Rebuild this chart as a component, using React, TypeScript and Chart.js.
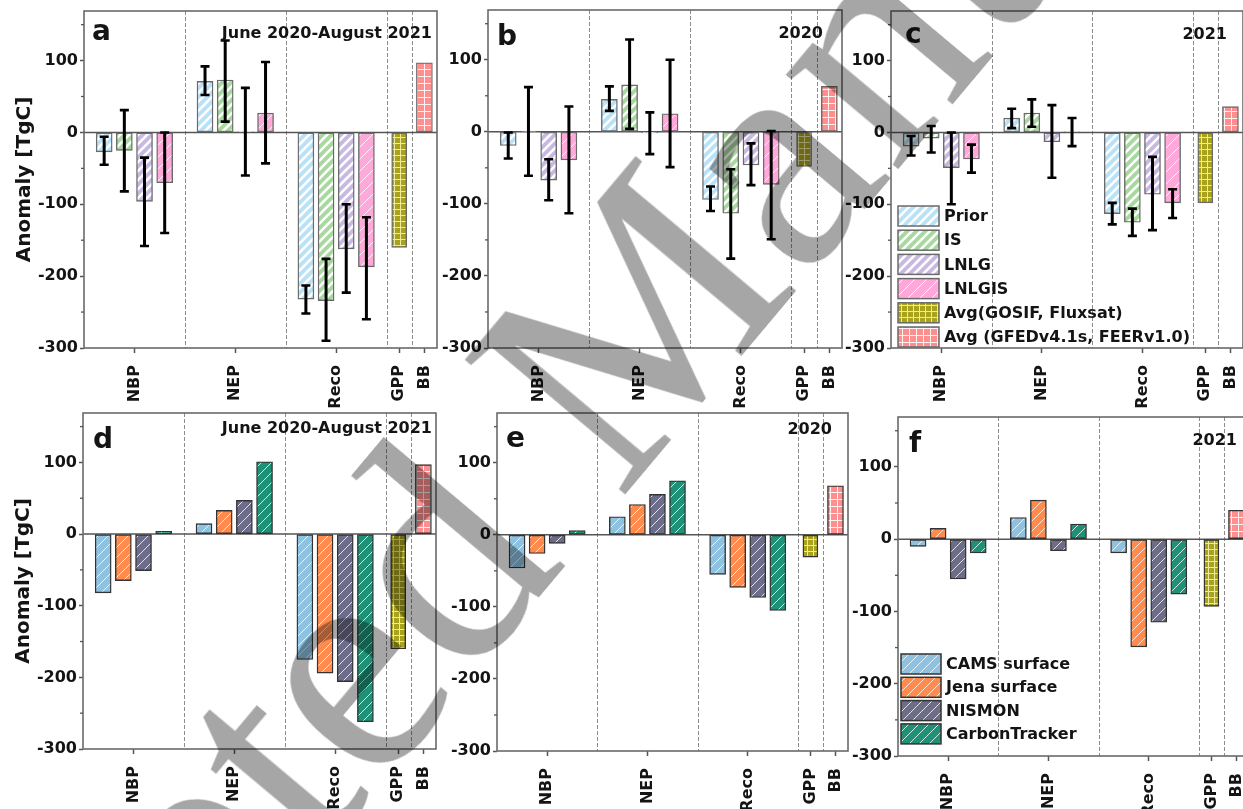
import React, { useEffect, useRef } from "react";
import { Chart, registerables } from "chart.js";

Chart.register(...registerables);

// ---------- categories & axes ----------
const CATEGORIES = ["NBP", "NEP", "Reco", "GPP", "BB"];
const CATEGORY_SPAN = [4, 4, 4, 1, 1];
const Y_TICKS = [-300, -200, -100, 0, 100];
const Y_MINOR = [-250, -150, -50, 50, 150];
const Y_MIN = -300;
const Y_MAX = 169;
const Y_TITLE = "Anomaly [TgC]";
const WATERMARK = "Accepted Manuscript";

// ---------- series names ----------
const TOP_SERIES = ["Prior", "IS", "LNLG", "LNLGIS"];
const BOTTOM_SERIES = ["CAMS surface", "Jena surface", "NISMON", "CarbonTracker"];
const GPP_LABEL = "Avg(GOSIF, Fluxsat)";
const BB_LABEL = "Avg (GFEDv4.1s, FEERv1.0)";

// ---------- panel a : June 2020-August 2021 (NBP, NEP, Reco) ----------
const A_PRIOR = [-27, 71, -232];
const A_PRIOR_LO = [-45, 52, -252];
const A_PRIOR_HI = [-6, 92, -213];
const A_IS = [-25, 73, -234];
const A_IS_LO = [-82, 15, -290];
const A_IS_HI = [31, 128, -176];
const A_LNLG = [-96, 1, -162];
const A_LNLG_LO = [-158, -60, -223];
const A_LNLG_HI = [-35, 62, -100];
const A_LNLGIS = [-70, 27, -187];
const A_LNLGIS_LO = [-140, -43, -260];
const A_LNLGIS_HI = [0, 98, -118];
const A_GPP = -160;
const A_BB = 97;

// ---------- panel b : 2020 ----------
const B_PRIOR = [-19, 45, -94];
const B_PRIOR_LO = [-37, 29, -110];
const B_PRIOR_HI = [-1, 63, -76];
const B_IS = [1, 65, -113];
const B_IS_LO = [-61, 4, -176];
const B_IS_HI = [62, 128, -52];
const B_LNLG = [-67, -1.5, -46];
const B_LNLG_LO = [-95, -31, -74];
const B_LNLG_HI = [-38, 27, -16];
const B_LNLGIS = [-39, 25, -73];
const B_LNLGIS_LO = [-113, -49, -149];
const B_LNLGIS_HI = [35, 100, 1];
const B_GPP = -48;
const B_BB = 63;

// ---------- panel c : 2021 ----------
const C_PRIOR = [-19, 20, -113];
const C_PRIOR_LO = [-32, 6, -128];
const C_PRIOR_HI = [-5, 33, -98];
const C_IS = [-8, 27, -125];
const C_IS_LO = [-28, 8, -144];
const C_IS_HI = [9, 46, -106];
const C_LNLG = [-49, -13, -86];
const C_LNLG_LO = [-100, -63, -136];
const C_LNLG_HI = [0, 38, -34];
const C_LNLGIS = [-37, 1, -98];
const C_LNLGIS_LO = [-56, -19, -119];
const C_LNLGIS_HI = [-17, 20, -79];
const C_GPP = -98;
const C_BB = 36;

// ---------- panel d : June 2020-August 2021 ----------
const D_CAMS = [-82, 14.5, -175];
const D_JENA = [-65, 33, -194];
const D_NISMON = [-51, 47, -206];
const D_CT = [4, 101, -262];
const D_GPP = -160;
const D_BB = 97;

// ---------- panel e : 2020 ----------
const E_CAMS = [-46, 25, -55];
const E_JENA = [-26, 42, -73];
const E_NISMON = [-12, 56, -87];
const E_CT = [6, 75, -105];
const E_GPP = -31;
const E_BB = 68;

// ---------- panel f : 2021 ----------
const F_CAMS = [-10, 30, -19];
const F_JENA = [15, 54, -149];
const F_NISMON = [-55, -16, -115];
const F_CT = [-19, 21, -76];
const F_GPP = -93;
const F_BB = 40;

// ---------- styles ----------
const FONT = "'DejaVu Sans', 'Liberation Sans', sans-serif";
const TEXT = "#141414";
const TOP_STYLE = [
  { base: "#b9e2f8", stripe: "#ffffff", lw: 2.6, period: 9 },
  { base: "#a7d99e", stripe: "#ffffff", lw: 2.6, period: 9 },
  { base: "#c7b9e1", stripe: "#ffffff", lw: 2.6, period: 9 },
  { base: "#ffa9da", stripe: "rgba(255,255,255,0.85)", lw: 1, period: 12 },
];
const BOTTOM_STYLE = [
  { base: "#8fc2e0", stripe: "rgba(255,255,255,0.8)", lw: 1, period: 10 },
  { base: "#ff8b4e", stripe: "rgba(255,255,255,0.8)", lw: 1, period: 10 },
  { base: "#6d6d89", stripe: "rgba(255,255,255,0.8)", lw: 1, period: 10 },
  { base: "#1f9177", stripe: "rgba(255,255,255,0.8)", lw: 1, period: 10 },
];
const GPP_STYLE = { base: "#a9a31c", line: "#eceaa0", cell: 6 };
const BB_STYLE = { base: "#ff8f8f", line: "#fff2f2", cell: 7 };

// ---------- layout (chart-area boxes in page pixels) ----------
const GEOMETRY = {
  a: { L: 84, T: 11, W: 353, H: 337 },
  b: { L: 488, T: 10, W: 354, H: 338 },
  c: { L: 891, T: 11, W: 352, H: 337 },
  d: { L: 83, T: 413, W: 353, H: 336 },
  e: { L: 497, T: 413, W: 351, H: 338 },
  f: { L: 898, T: 417, W: 351, H: 339 },
};
const Y_AXIS_W = 80;
const TOP_PAD = 12;
const RIGHT_PAD = 30;

const groupStart = (g: number) => CATEGORY_SPAN.slice(0, g).reduce((s, v) => s + v, 0);
const X_MAX = groupStart(CATEGORY_SPAN.length);
const TICK_POS = CATEGORIES.map((_, g) => groupStart(g) + CATEGORY_SPAN[g] / 2);
const SEPARATORS = CATEGORIES.slice(1).map((_, g) => groupStart(g + 1));

function diagPattern(base: string, stripe: string, lw: number, p: number) {
  const c = document.createElement("canvas");
  c.width = p;
  c.height = p;
  const g = c.getContext("2d")!;
  g.fillStyle = base;
  g.fillRect(0, 0, p, p);
  g.strokeStyle = stripe;
  g.lineWidth = lw;
  g.beginPath();
  g.moveTo(-p, p);
  g.lineTo(p, -p);
  g.moveTo(0, p);
  g.lineTo(p, 0);
  g.moveTo(0, 2 * p);
  g.lineTo(2 * p, 0);
  g.stroke();
  return g.createPattern(c, "repeat")!;
}

function gridPattern(base: string, line: string, cell: number) {
  const c = document.createElement("canvas");
  c.width = cell;
  c.height = cell;
  const g = c.getContext("2d")!;
  g.fillStyle = base;
  g.fillRect(0, 0, cell, cell);
  g.fillStyle = line;
  g.fillRect(0, 0, cell, 1);
  g.fillRect(0, 0, 1, cell);
  return g.createPattern(c, "repeat")!;
}

type Series = { label: string; values: number[]; lo?: number[]; hi?: number[] };

const PANELS = [
  {
    id: "a", row: 0, period: "June 2020-August 2021", yTitle: true,
    series: [
      { label: TOP_SERIES[0], values: A_PRIOR, lo: A_PRIOR_LO, hi: A_PRIOR_HI },
      { label: TOP_SERIES[1], values: A_IS, lo: A_IS_LO, hi: A_IS_HI },
      { label: TOP_SERIES[2], values: A_LNLG, lo: A_LNLG_LO, hi: A_LNLG_HI },
      { label: TOP_SERIES[3], values: A_LNLGIS, lo: A_LNLGIS_LO, hi: A_LNLGIS_HI },
    ] as Series[],
    gpp: A_GPP, bb: A_BB, legend: 0,
    letterPos: [8, 29], titlePos: [5, 27],
  },
  {
    id: "b", row: 0, period: "2020", yTitle: false,
    series: [
      { label: TOP_SERIES[0], values: B_PRIOR, lo: B_PRIOR_LO, hi: B_PRIOR_HI },
      { label: TOP_SERIES[1], values: B_IS, lo: B_IS_LO, hi: B_IS_HI },
      { label: TOP_SERIES[2], values: B_LNLG, lo: B_LNLG_LO, hi: B_LNLG_HI },
      { label: TOP_SERIES[3], values: B_LNLGIS, lo: B_LNLGIS_LO, hi: B_LNLGIS_HI },
    ] as Series[],
    gpp: B_GPP, bb: B_BB, legend: 0,
    letterPos: [9, 35], titlePos: [19, 28],
  },
  {
    id: "c", row: 0, period: "2021", yTitle: false,
    series: [
      { label: TOP_SERIES[0], values: C_PRIOR, lo: C_PRIOR_LO, hi: C_PRIOR_HI },
      { label: TOP_SERIES[1], values: C_IS, lo: C_IS_LO, hi: C_IS_HI },
      { label: TOP_SERIES[2], values: C_LNLG, lo: C_LNLG_LO, hi: C_LNLG_HI },
      { label: TOP_SERIES[3], values: C_LNLGIS, lo: C_LNLGIS_LO, hi: C_LNLGIS_HI },
    ] as Series[],
    gpp: C_GPP, bb: C_BB, legend: 6,
    legendBox: { dx: 7, dy: 195, w: 41, h: 20, step: 24.2 },
    letterPos: [14, 32], titlePos: [16, 28],
  },
  {
    id: "d", row: 1, period: "June 2020-August 2021", yTitle: true,
    series: [
      { label: BOTTOM_SERIES[0], values: D_CAMS },
      { label: BOTTOM_SERIES[1], values: D_JENA },
      { label: BOTTOM_SERIES[2], values: D_NISMON },
      { label: BOTTOM_SERIES[3], values: D_CT },
    ] as Series[],
    gpp: D_GPP, bb: D_BB, legend: 0,
    letterPos: [10, 35], titlePos: [4, 20],
  },
  {
    id: "e", row: 1, period: "2020", yTitle: false,
    series: [
      { label: BOTTOM_SERIES[0], values: E_CAMS },
      { label: BOTTOM_SERIES[1], values: E_JENA },
      { label: BOTTOM_SERIES[2], values: E_NISMON },
      { label: BOTTOM_SERIES[3], values: E_CT },
    ] as Series[],
    gpp: E_GPP, bb: E_BB, legend: 0,
    letterPos: [9, 34], titlePos: [16, 21],
  },
  {
    id: "f", row: 1, period: "2021", yTitle: false,
    series: [
      { label: BOTTOM_SERIES[0], values: F_CAMS },
      { label: BOTTOM_SERIES[1], values: F_JENA },
      { label: BOTTOM_SERIES[2], values: F_NISMON },
      { label: BOTTOM_SERIES[3], values: F_CT },
    ] as Series[],
    gpp: F_GPP, bb: F_BB, legend: 4,
    legendBox: { dx: 3, dy: 237, w: 40, h: 20, step: 23.3 },
    letterPos: [11, 35], titlePos: [12, 28],
  },
];

const panelDecor = {
  id: "panelDecor",
  beforeDatasetsDraw(chart: any) {
    const { ctx, chartArea: ca, scales } = chart;
    const x = scales.x;
    const y = scales.y;
    ctx.save();
    ctx.strokeStyle = "#8c8c8c";
    ctx.lineWidth = 1;
    ctx.setLineDash([4, 2]);
    SEPARATORS.forEach((s) => {
      const px = Math.round(x.getPixelForValue(s)) + 0.5;
      ctx.beginPath();
      ctx.moveTo(px, ca.top);
      ctx.lineTo(px, ca.bottom);
      ctx.stroke();
    });
    ctx.setLineDash([]);
    ctx.strokeStyle = "#555";
    ctx.lineWidth = 1.5;
    const y0 = y.getPixelForValue(0);
    ctx.beginPath();
    ctx.moveTo(ca.left, y0);
    ctx.lineTo(ca.right, y0);
    ctx.stroke();
    ctx.restore();
  },
  afterDatasetsDraw(chart: any, _a: any, opts: any) {
    const { ctx, chartArea: ca, scales } = chart;
    const y = scales.y;
    ctx.save();
    // error bars
    chart.data.datasets.forEach((ds: any, di: number) => {
      if (!ds.errLo) return;
      const meta = chart.getDatasetMeta(di);
      meta.data.forEach((bar: any, i: number) => {
        const bx = bar.x;
        const yl = y.getPixelForValue(ds.errLo[i]);
        const yh = y.getPixelForValue(ds.errHi[i]);
        ctx.strokeStyle = "#000";
        ctx.lineWidth = 3;
        ctx.beginPath();
        ctx.moveTo(bx, yl);
        ctx.lineTo(bx, yh);
        ctx.stroke();
        ctx.lineWidth = 2.6;
        ctx.beginPath();
        ctx.moveTo(bx - 4.5, yl);
        ctx.lineTo(bx + 4.5, yl);
        ctx.moveTo(bx - 4.5, yh);
        ctx.lineTo(bx + 4.5, yh);
        ctx.stroke();
      });
    });
    // frame
    ctx.strokeStyle = "#6a6a6a";
    ctx.lineWidth = 1.6;
    ctx.strokeRect(ca.left, ca.top, ca.right - ca.left, ca.bottom - ca.top);
    // minor y ticks
    ctx.strokeStyle = "#555";
    ctx.lineWidth = 1.3;
    Y_MINOR.forEach((v) => {
      const py = y.getPixelForValue(v);
      ctx.beginPath();
      ctx.moveTo(ca.left - 3, py);
      ctx.lineTo(ca.left, py);
      ctx.stroke();
    });
    // panel letter & period
    ctx.fillStyle = TEXT;
    ctx.textBaseline = "alphabetic";
    ctx.font = `bold 28px ${FONT}`;
    ctx.textAlign = "left";
    ctx.fillText(opts.letter, ca.left + opts.letterPos[0], ca.top + opts.letterPos[1]);
    ctx.font = `bold 16px ${FONT}`;
    ctx.textAlign = "right";
    ctx.fillText(opts.period, ca.right - opts.titlePos[0], ca.top + opts.titlePos[1]);
    // legend
    if (opts.legend > 0) {
      const lb = opts.legendBox;
      ctx.font = `bold 16px ${FONT}`;
      ctx.textAlign = "left";
      ctx.textBaseline = "middle";
      chart.data.datasets.slice(0, opts.legend).forEach((ds: any, i: number) => {
        const lx = ca.left + lb.dx;
        const ly = ca.top + lb.dy + i * lb.step;
        ctx.fillStyle = ds.backgroundColor;
        ctx.fillRect(lx, ly, lb.w, lb.h);
        ctx.strokeStyle = ds.borderColor;
        ctx.lineWidth = 1.5;
        ctx.strokeRect(lx, ly, lb.w, lb.h);
        ctx.fillStyle = TEXT;
        ctx.fillText(ds.label, lx + lb.w + 5, ly + lb.h / 2 + 1);
      });
    }
    ctx.restore();
  },
};

function buildDatasets(panel: any) {
  const top = panel.row === 0;
  const styles = top ? TOP_STYLE : BOTTOM_STYLE;
  const border = top ? "#6a6a6a" : "#333333";
  const common = { borderWidth: 1.4, borderSkipped: false, barThickness: 16, grouped: false, borderColor: border };
  const ds: any[] = panel.series.map((s: Series, i: number) => ({
    ...common,
    label: s.label,
    data: s.values.map((v, g) => ({ x: groupStart(g) + (i + 1) * 0.8, y: v })),
    backgroundColor: diagPattern(styles[i].base, styles[i].stripe, styles[i].lw, styles[i].period),
    errLo: s.lo,
    errHi: s.hi,
  }));
  ds.push({
    ...common,
    label: GPP_LABEL,
    barThickness: 15,
    data: [{ x: TICK_POS[3], y: panel.gpp }],
    backgroundColor: gridPattern(GPP_STYLE.base, GPP_STYLE.line, GPP_STYLE.cell),
  });
  ds.push({
    ...common,
    label: BB_LABEL,
    data: [{ x: TICK_POS[4], y: panel.bb }],
    backgroundColor: gridPattern(BB_STYLE.base, BB_STYLE.line, BB_STYLE.cell),
  });
  return ds;
}

function Panel({ panel }: { panel: any }) {
  const ref = useRef<HTMLCanvasElement>(null);
  const g = (GEOMETRY as any)[panel.id];
  const xAxisH = panel.row === 0 ? 60 : 809 - (g.T + g.H);
  const width = Y_AXIS_W + g.W + RIGHT_PAD;
  const height = TOP_PAD + g.H + xAxisH;

  useEffect(() => {
    const chart = new Chart(ref.current!, {
      type: "bar",
      data: { datasets: buildDatasets(panel) },
      plugins: [panelDecor],
      options: {
        responsive: false,
        maintainAspectRatio: false,
        animation: false,
        devicePixelRatio: 1,
        layout: { padding: { top: TOP_PAD, right: RIGHT_PAD, left: 0, bottom: 0 } },
        plugins: {
          legend: { display: false },
          tooltip: { enabled: false },
          panelDecor: {
            letter: panel.id,
            period: panel.period,
            letterPos: panel.letterPos,
            titlePos: panel.titlePos,
            legend: panel.legend,
            legendBox: panel.legendBox,
          },
        } as any,
        scales: {
          x: {
            type: "linear",
            min: 0,
            max: X_MAX,
            offset: false,
            afterBuildTicks: (s: any) => {
              s.ticks = TICK_POS.map((v) => ({ value: v }));
            },
            afterFit: (s: any) => {
              s.height = xAxisH;
            },
            ticks: {
              autoSkip: false,
              minRotation: 90,
              maxRotation: 90,
              padding: 12,
              color: TEXT,
              font: { family: FONT, size: 16, weight: "bold" },
              callback: (_v: any, i: number) => CATEGORIES[i],
            },
            grid: { display: true, drawOnChartArea: false, drawTicks: true, tickLength: 5, tickColor: "#555", tickWidth: 1.5, offset: false },
            border: { display: false },
          },
          y: {
            type: "linear",
            min: Y_MIN,
            max: Y_MAX,
            afterBuildTicks: (s: any) => {
              s.ticks = Y_TICKS.map((v) => ({ value: v }));
            },
            afterFit: (s: any) => {
              s.width = Y_AXIS_W;
            },
            ticks: {
              padding: 2,
              color: TEXT,
              font: { family: FONT, size: 16, weight: "bold" },
            },
            grid: { display: true, drawOnChartArea: false, drawTicks: true, tickLength: 4, tickColor: "#555", tickWidth: 1.5 },
            border: { display: false },
            title: {
              display: panel.yTitle,
              text: Y_TITLE,
              color: TEXT,
              font: { family: FONT, size: 20, weight: "bold" },
              padding: { top: 9, bottom: 0 },
            },
          },
        },
      } as any,
    });
    return () => chart.destroy();
  }, []);

  return (
    <canvas
      ref={ref}
      width={width}
      height={height}
      style={{ position: "absolute", left: g.L - Y_AXIS_W, top: g.T - TOP_PAD, width, height }}
    />
  );
}

export default function App() {
  return (
    <div style={{ position: "absolute", left: 0, top: 0, width: 1243, height: 809, overflow: "hidden", background: "#fff" }}>
      {PANELS.map((p) => (
        <Panel key={p.id} panel={p} />
      ))}
      <div
        style={{
          position: "absolute",
          left: -414,
          top: 1316,
          fontFamily: "'Liberation Serif', 'DejaVu Serif', serif",
          fontSize: 320,
          lineHeight: 1,
          color: "rgba(0,0,0,0.35)",
          whiteSpace: "nowrap",
          transform: "rotate(-50deg)",
          transformOrigin: "0 0",
          pointerEvents: "none",
        }}
      >
        {WATERMARK}
      </div>
    </div>
  );
}
